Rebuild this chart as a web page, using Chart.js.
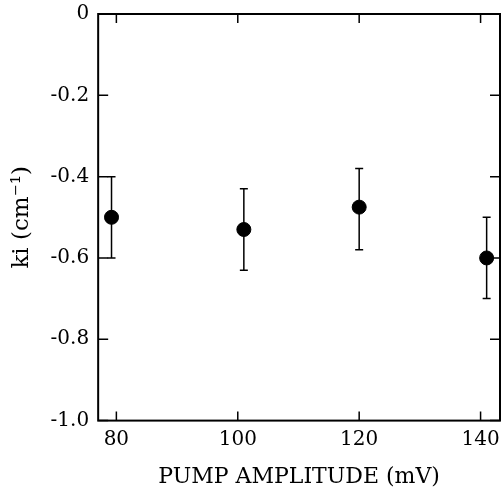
<!DOCTYPE html>
<html>
<head>
<meta charset="utf-8">
<script src="https://cdn.jsdelivr.net/npm/chart.js@4/dist/chart.umd.min.js"></script>
<style>
  html, body { margin: 0; padding: 0; background: #fff; }
  #wrap { width: 501px; height: 490px; }
</style>
</head>
<body>
<div id="wrap"><canvas id="kiChart" width="501" height="490"></canvas></div>
<script>
// data
const pumpAmp = [79.2, 101, 120, 141];
const kiVals = [-0.50, -0.53, -0.475, -0.60];
const errUp = [-0.40, -0.43, -0.38, -0.50];
const errLow = [-0.60, -0.63, -0.58, -0.70];
const xTicks = [80, 100, 120, 140];
const yTicks = [0, -0.2, -0.4, -0.6, -0.8, -1.0];

const serif = '"DejaVu Serif", "Liberation Serif", serif';

// error bars, frame and inward ticks
const framePlugin = {
    id: 'frame',
    afterDatasetsDraw(chart) {
        const ctx = chart.ctx;
        const a = chart.chartArea;
        const x = chart.scales.x, y = chart.scales.y;
        ctx.save();
        ctx.strokeStyle = '#000';
        // error bars
        ctx.lineWidth = 1.5;
        pumpAmp.forEach(function (v, i) {
            const px = x.getPixelForValue(v);
            const top = y.getPixelForValue(errUp[i]);
            const bot = y.getPixelForValue(errLow[i]);
            ctx.beginPath();
            ctx.moveTo(px, top); ctx.lineTo(px, bot);
            ctx.moveTo(px - 4, top); ctx.lineTo(px + 4, top);
            ctx.moveTo(px - 4, bot); ctx.lineTo(px + 4, bot);
            ctx.stroke();
        });
        // frame
        ctx.lineWidth = 2;
        ctx.strokeRect(a.left, a.top, a.right - a.left, a.bottom - a.top);
        // inward ticks
        ctx.lineWidth = 1.5;
        xTicks.forEach(function (v) {
            const px = x.getPixelForValue(v);
            ctx.beginPath();
            ctx.moveTo(px, a.bottom); ctx.lineTo(px, a.bottom - 9);
            ctx.moveTo(px, a.top); ctx.lineTo(px, a.top + 9);
            ctx.stroke();
        });
        yTicks.forEach(function (v) {
            const py = y.getPixelForValue(v);
            ctx.beginPath();
            ctx.moveTo(a.left, py); ctx.lineTo(a.left + 10, py);
            ctx.moveTo(a.right, py); ctx.lineTo(a.right - 10, py);
            ctx.stroke();
        });
        ctx.restore();
    }
};

new Chart(document.getElementById('kiChart'), {
    type: 'scatter',
    data: {
        datasets: [{
            label: 'ki',
            data: pumpAmp.map((v, i) => ({x: v, y: kiVals[i]})),
            backgroundColor: '#000',
            borderColor: '#000',
            pointRadius: 7,
            pointHoverRadius: 7,
            clip: false
        }]
    },
    options: {
        responsive: false,
        animation: false,
        layout: {autoPadding: false, padding: {top: 14, right: 1, left: 8, bottom: 0}},
        plugins: {legend: {display: false}, tooltip: {enabled: false}},
        scales: {
            x: {
                min: 77,
                max: 143.2,
                afterBuildTicks: s => { s.ticks = xTicks.map(v => ({value: v})); },
                afterFit: s => { s.paddingLeft = 0; s.paddingRight = 0; },
                grid: {display: false, drawTicks: false},
                border: {display: false},
                ticks: {
                    color: '#000',
                    font: {family: serif, size: 20},
                    padding: 7,
                    maxRotation: 0
                },
                title: {
                    display: true,
                    text: 'PUMP AMPLITUDE (mV)',
                    color: '#000',
                    font: {family: serif, size: 22},
                    padding: {top: 5, bottom: 0}
                }
            },
            y: {
                min: -1.0,
                max: 0,
                afterBuildTicks: s => { s.ticks = yTicks.map(v => ({value: v})); },
                afterFit: s => { s.paddingTop = 0; s.paddingBottom = 0; },
                grid: {display: false, drawTicks: false},
                border: {display: false},
                ticks: {
                    color: '#000',
                    font: {family: serif, size: 20},
                    padding: 9,
                    callback: v => v === 0 ? '0' : v.toFixed(1)
                },
                title: {
                    display: true,
                    text: 'ki (cm\u207B\u00B9)',
                    color: '#000',
                    font: {family: serif, size: 23},
                    padding: {top: 0, bottom: 6}
                }
            }
        }
    },
    plugins: [framePlugin]
});
</script>
</body>
</html>
